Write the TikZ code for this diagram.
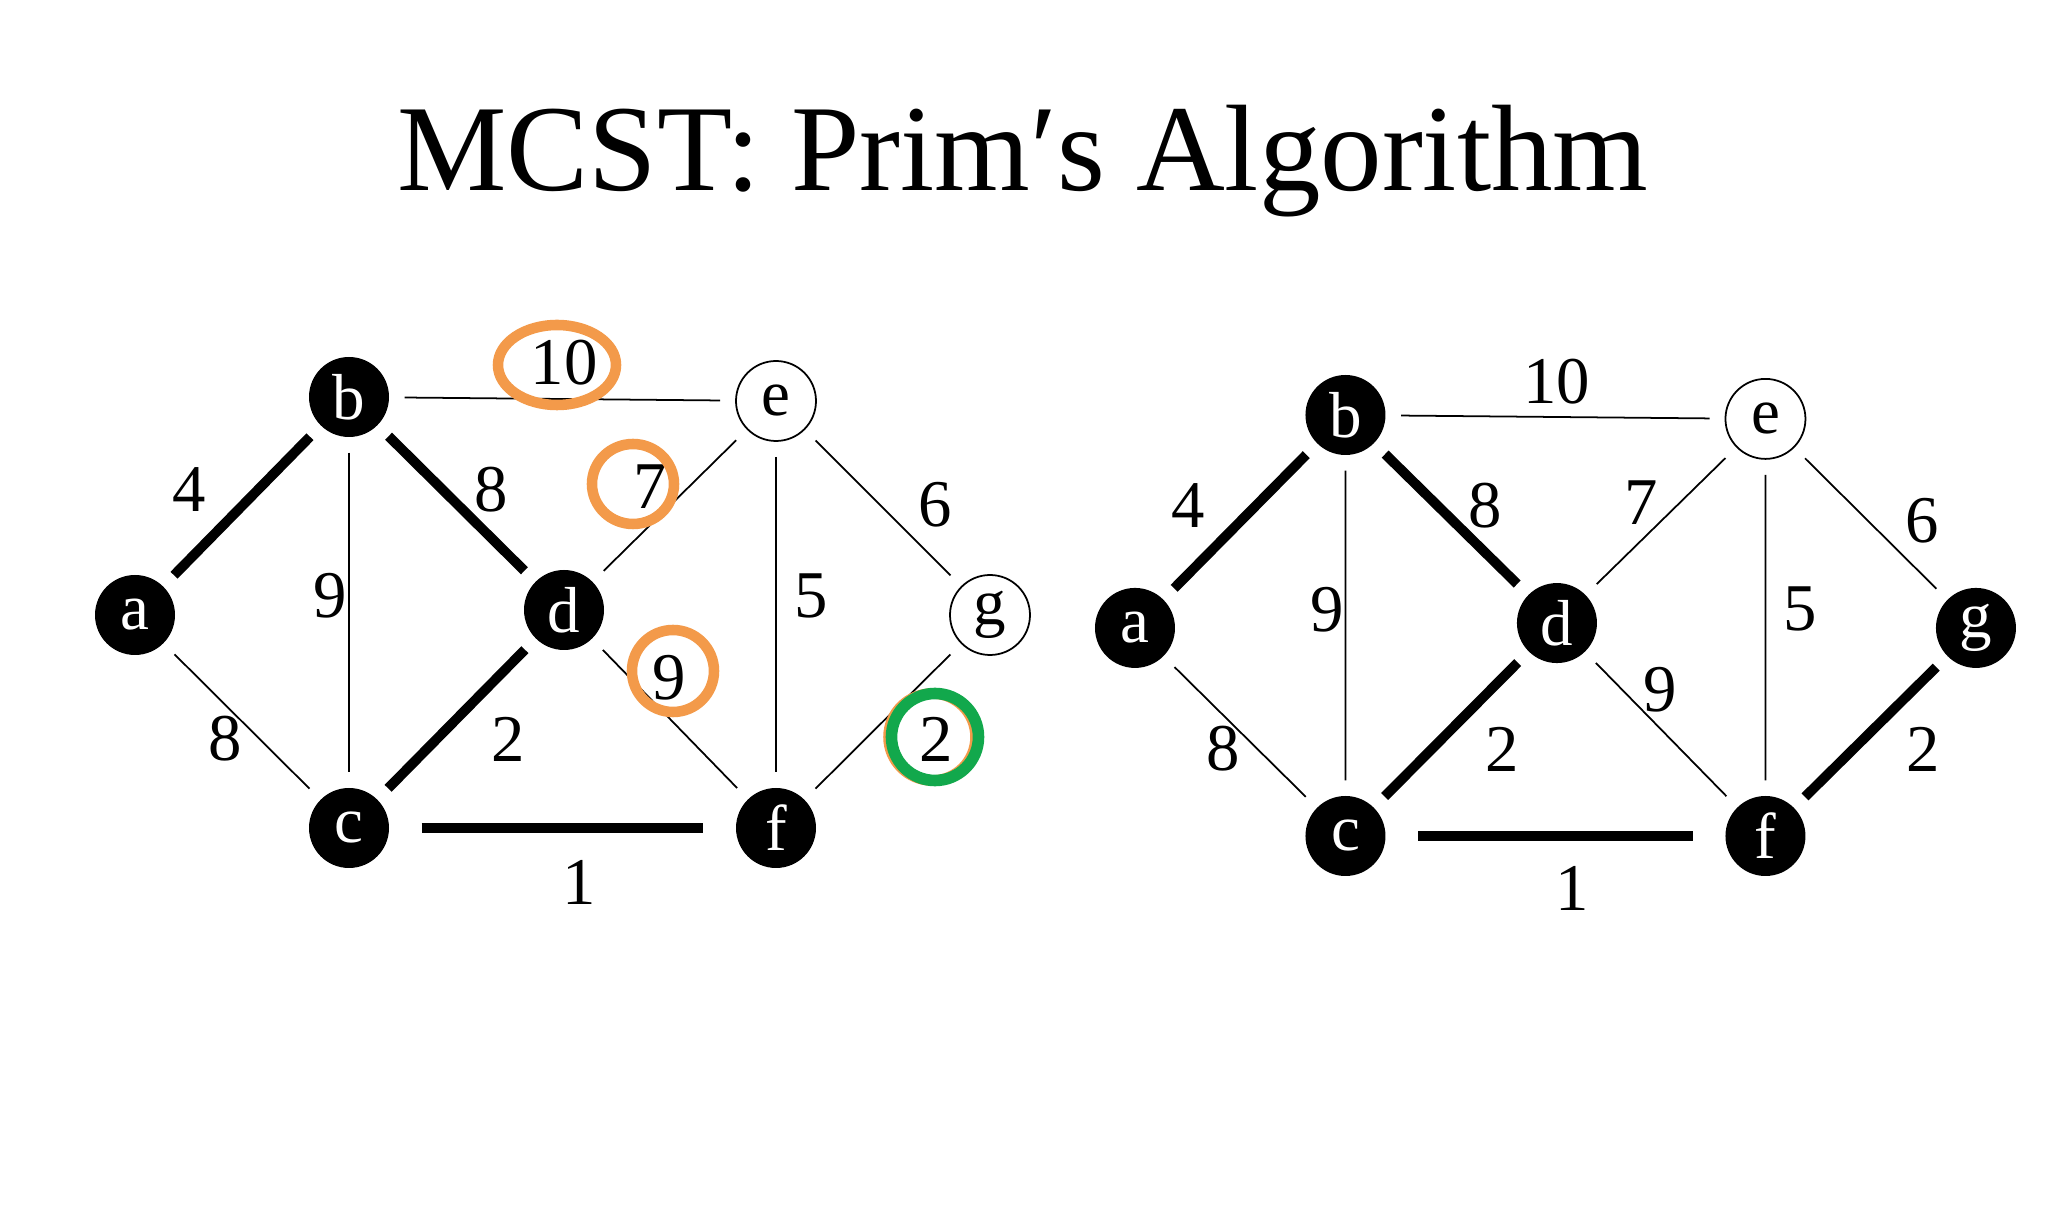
\documentclass[tikz,border=0pt]{standalone}
\usepackage{fontspec}
\setmainfont{Liberation Serif}
\usepackage{xcolor}
\usepackage{tikz}
\usetikzlibrary{positioning,calc}
\definecolor{hiorange}{HTML}{F39A4A}
\definecolor{higreen}{HTML}{12A84C}

% one copy of the graph; #1 = look of g, #2 = look of edge f--g
\newcommand{\primgraph}[2]{%
  \node[vtx] (a) at (1.35,6.14) {a};
  \node[vtx] (b) at (3.49,8.32) {b};
  \node[vtx] (c) at (3.49,4.01) {c};
  \node[vtx] (d) at (5.64,6.19) {d};
  \node[vtx, open] (e) at (7.76,8.28) {e};
  \node[vtx] (f) at (7.76,4.01) {f};
  \node[vtx, #1] (g) at (9.90,6.14) {g};
  \draw[mst] (a) -- (b); \draw[mst] (b) -- (d); \draw[mst] (c) -- (d);
  \draw[mst, shorten <=3.2mm, shorten >=3.2mm] (c) -- (f);
  \draw[edge] (a) -- (c); \draw[edge] (b) -- (c); \draw[edge] (b) -- (e);
  \draw[edge] (d) -- (e); \draw[edge] (d) -- (f); \draw[edge] (e) -- (f);
  \draw[edge] (e) -- (g); \draw[#2] (f) -- (g);
  \node[wt] (w-ab) at (1.89,7.39) {4};
  \node[wt] (w-bc) at (3.30,6.33) {9};
  \node[wt] (w-bd) at (4.91,7.39) {8};
  \node[wt] (w-be) at (5.64,8.66) {10};
  \node[wt] (w-de) at (6.50,7.42) {7};
  \node[wt] (w-ef) at (8.11,6.33) {5};
  \node[wt] (w-eg) at (9.35,7.24) {6};
  \node[wt] (w-df) at (6.69,5.51) {9};
  \node[wt] (w-cd) at (5.08,4.90) {2};
  \node[wt] (w-fg) at (9.36,4.90) {2};
  \node[wt] (w-ac) at (2.25,4.90) {8};
  \node[wt] (w-cf) at (5.79,3.47) {1};
}

\begin{document}
\begin{tikzpicture}[
    vtx/.style={circle, fill=black, text=white, minimum size=8mm, inner sep=0pt,
                font=\fontsize{18.5}{18.5}\selectfont},
    open/.style={fill=white, text=black, draw=black, line width=0.5pt},
    edge/.style={line width=0.5pt, shorten <=1.5mm, shorten >=1.5mm},
    mst/.style={edge, line width=2.8pt},
    wt/.style={inner sep=0pt, font=\fontsize{19}{19}\selectfont},
    ring/.style={draw=hiorange, line width=3pt}]
  \useasboundingbox (0,0) rectangle (20.48,12.29);
  \node[anchor=base, font=\fontsize{35}{35}\selectfont] (title) at (10.23,10.38)
    {MCST: Prim′s Algorithm};
  % before
  \begin{scope}[name prefix=L-]
    \primgraph{open}{edge}
  \end{scope}
  % after
  \begin{scope}[name prefix=R-, xshift=10.022cm, yshift=0.013cm, xscale=0.9836, yscale=0.9768]
    \primgraph{}{mst}
  \end{scope}
  % candidate edges
  \draw[ring] (5.57,8.64) ellipse [x radius=0.59, y radius=0.40];
  \draw[ring] (6.33,7.45) ellipse [x radius=0.41, y radius=0.40];
  \draw[ring] (6.73,5.58) circle [radius=0.41];
  \draw[ring] (9.32,4.92) circle [radius=0.435];
  \draw[ring, draw=higreen, line width=3.3pt] (9.35,4.92) circle [radius=0.435];
\end{tikzpicture}
\end{document}
